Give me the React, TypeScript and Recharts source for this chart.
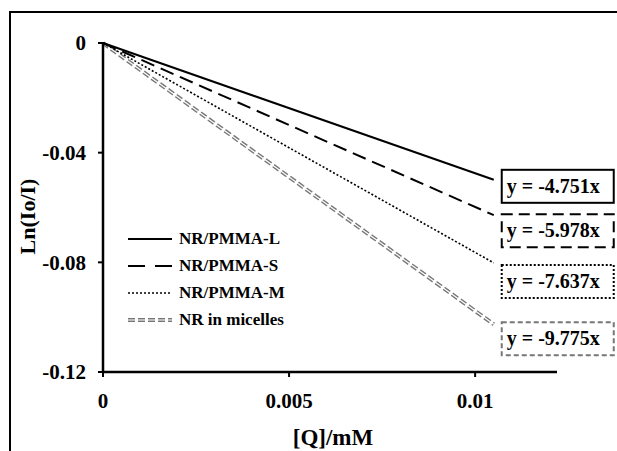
import React from "react";
import { LineChart, Line, XAxis, YAxis, LabelList } from "recharts";

const xValues = [0, 0.0105];
const seriesL = [0, -0.0499];
const seriesS = [0, -0.0628];
const seriesM = [0, -0.0802];
const seriesMic = [0, -0.1026];
const seriesNames = ["NR/PMMA-L", "NR/PMMA-S", "NR/PMMA-M", "NR in micelles"];
const equations = ["y = -4.751x", "y = -5.978x", "y = -7.637x", "y = -9.775x"];
const xTicks = [0, 0.005, 0.01];
const yTicks = [0, -0.04, -0.08, -0.12];

const data = xValues.map((x, i) => ({
  x,
  L: seriesL[i],
  S: seriesS[i],
  M: seriesM[i],
  Mic: seriesMic[i],
}));

const FONT = "'Liberation Serif', 'Times New Roman', serif";

const boxStyles = [
  { stroke: "#000", dash: undefined, dy: -10 },
  { stroke: "#000", dash: "11 6", dy: -1 },
  { stroke: "#000", dash: "2 2", dy: 2 },
  { stroke: "#777", dash: "5 3", dy: -2 },
];

const makeBox = (k: number) => (props: any) => {
  const { x, y, index } = props;
  if (index !== xValues.length - 1) return null;
  const s = boxStyles[k];
  const bx = x + 8;
  const by = y + s.dy;
  return (
    <g>
      <rect x={bx} y={by} width={112} height={33} fill="#fff" stroke={s.stroke} strokeWidth={2} strokeDasharray={s.dash} />
      <text x={bx + 5} y={by + 23} fontFamily={FONT} fontWeight="bold" fontSize={20} fill="#000">
        {equations[k]}
      </text>
    </g>
  );
};

const legendSwatch = (k: number) => {
  if (k === 0) return <line x1={0} y1={6} x2={44} y2={6} stroke="#000" strokeWidth={2} />;
  if (k === 1) return <line x1={0} y1={6} x2={44} y2={6} stroke="#000" strokeWidth={2} strokeDasharray="17 10" />;
  if (k === 2) return <line x1={0} y1={6} x2={44} y2={6} stroke="#000" strokeWidth={1.6} strokeDasharray="2 2" />;
  return (
    <g>
      <line x1={0} y1={6} x2={44} y2={6} stroke="#777" strokeWidth={4} strokeDasharray="7 3" />
      <line x1={0} y1={6} x2={44} y2={6} stroke="#fff" strokeWidth={1.2} />
    </g>
  );
};

export default function App() {
  return (
    <div style={{ position: "absolute", left: 0, top: 0, width: 617, height: 451, overflow: "hidden", background: "#fff" }}>
      <div style={{ position: "absolute", left: 9, top: 11, width: 700, height: 600, borderLeft: "2px solid #000", borderTop: "2px solid #000" }} />
      <div style={{ position: "absolute", left: 0, top: 0 }}>
        <LineChart width={617} height={451} data={data} margin={{ top: 43, right: 60, bottom: 9, left: 0 }}>
          <XAxis
            dataKey="x"
            type="number"
            domain={[0, 0.0122]}
            ticks={xTicks}
            tickFormatter={(v: number) => String(v)}
            axisLine={{ stroke: "#000", strokeWidth: 2.5 }}
            tickLine={{ stroke: "#000", strokeWidth: 2 }}
            tickSize={5}
            tickMargin={16}
            height={70}
            tick={{ fill: "#000", fontFamily: FONT, fontWeight: "bold", fontSize: 21 }}
            label={{
              content: (p: any) => {
                const vb = p.viewBox;
                return (
                  <text x={vb.x + vb.width / 2 + 3} y={vb.y + 73} textAnchor="middle" fontFamily={FONT} fontWeight="bold" fontSize={23} fill="#000">
                    [Q]/mM
                  </text>
                );
              },
            }}
          />
          <YAxis
            type="number"
            domain={[-0.12, 0]}
            ticks={yTicks}
            tickFormatter={(v: number) => String(v)}
            width={103}
            axisLine={{ stroke: "#000", strokeWidth: 2.5 }}
            tickLine={{ stroke: "#000", strokeWidth: 2 }}
            tickSize={5}
            tickMargin={12}
            tick={{ fill: "#000", fontFamily: FONT, fontWeight: "bold", fontSize: 21 }}
            label={{
              content: (p: any) => {
                const vb = p.viewBox;
                const cx = 27;
                const cy = vb.y + vb.height / 2 + 9;
                return (
                  <text x={cx} y={cy} transform={`rotate(-90 ${cx} ${cy})`} textAnchor="middle" dominantBaseline="central" fontFamily={FONT} fontWeight="bold" fontSize={22} fill="#000">
                    Ln(Io/I)
                  </text>
                );
              },
            }}
          />
          <Line dataKey="Mic" stroke="#777" strokeWidth={4} strokeDasharray="7 3" dot={false} isAnimationActive={false} />
          <Line dataKey="Mic" stroke="#fff" strokeWidth={1.2} dot={false} isAnimationActive={false}>
            <LabelList content={makeBox(3)} />
          </Line>
          <Line dataKey="M" stroke="#000" strokeWidth={1.6} strokeDasharray="2 2" dot={false} isAnimationActive={false}>
            <LabelList content={makeBox(2)} />
          </Line>
          <Line dataKey="S" stroke="#000" strokeWidth={2} strokeDasharray="14 7" dot={false} isAnimationActive={false}>
            <LabelList content={makeBox(1)} />
          </Line>
          <Line dataKey="L" stroke="#000" strokeWidth={2} dot={false} isAnimationActive={false}>
            <LabelList content={makeBox(0)} />
          </Line>
        </LineChart>
      </div>
      <div style={{ position: "absolute", left: 128, top: 225, fontFamily: FONT, fontWeight: "bold", fontSize: 17 }}>
        {seriesNames.map((n, k) => (
          <div key={n} style={{ display: "flex", alignItems: "center", height: 27 }}>
            <svg width={44} height={12} style={{ marginRight: 7 }}>{legendSwatch(k)}</svg>
            <span>{n}</span>
          </div>
        ))}
      </div>
    </div>
  );
}
